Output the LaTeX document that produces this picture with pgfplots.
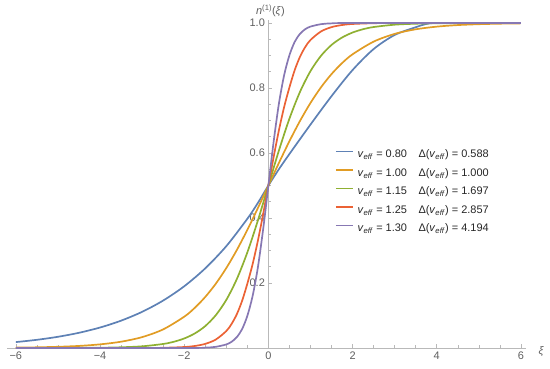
\documentclass[border=0pt]{standalone}
\usepackage{fontspec}
\setmainfont{Liberation Sans}
\usepackage{pgfplots}
\pgfplotsset{compat=1.18}
\definecolor{mBlue}{RGB}{94,129,181}
\definecolor{mOrange}{RGB}{225,156,36}
\definecolor{mGreen}{RGB}{143,176,50}
\definecolor{mRed}{RGB}{235,98,53}
\definecolor{mPurple}{RGB}{135,120,179}
\definecolor{axgray}{RGB}{185,185,185}
\definecolor{txtgray}{RGB}{95,95,95}
\newcommand{\veff}{\textit{v}\textsubscript{\textit{eff}}}
\newcommand{\lent}[2]{\makebox[61bp][l]{\veff\ = #1}Δ(\veff) = #2}
\begin{document}
\begin{tikzpicture}
\path[use as bounding box] (0,0) rectangle (550bp,369bp);
\begin{axis}[
  at={(7bp,21bp)}, anchor=south west,
  scale only axis, width=519bp, height=328.25bp,
  xmin=-6.21, xmax=6.12, ymin=0, ymax=1.01,
  axis lines=middle,
  axis line style={axgray, line width=0.8bp, -},
  xtick={-6,-4,-2,0,2,4,6},
  xticklabels={−6,−4,−2,0,2,4,6},
  ytick={0.2,0.4,0.6,0.8,1.0},
  yticklabels={0.2,0.4,0.6,0.8,1.0},
  minor x tick num=3, minor y tick num=3,
  hide obscured x ticks=false,
  tick style={axgray, line width=0.6bp},
  major tick length=4bp, minor tick length=2.5bp,
  tick align=inside,
  ticklabel style={font=\fontsize{11}{13}\selectfont, text=txtgray},
  clip=false,
  xlabel={\textit{ξ}},
  ylabel={\textit{n}\textsuperscript{(1)}(\textit{ξ})},
  every axis x label/.style={at={(axis cs:6.12,0)}, anchor=west, xshift=9bp, yshift=-4bp, font=\fontsize{11}{13}\selectfont, text=txtgray},
  every axis y label/.style={at={(axis cs:0,1.0)}, anchor=south, yshift=3bp, xshift=2bp, font=\fontsize{11}{13}\selectfont, text=txtgray},
  legend image code/.code={\draw[#1, line width=1.3bp] (0bp,3.8bp) -- (17bp,3.8bp);},
  legend cell align=left,
  legend style={draw=none, fill=none, at={(axis description cs:0.632,0.604)}, anchor=north west,
    inner sep=0pt, row sep=7.8bp, font=\fontsize{11}{13}\selectfont,
    nodes={inner sep=0pt, text height=8bp, text depth=2.7bp, text=black!85},
    /tikz/every odd column/.append style={column sep=4bp}},
  every axis plot/.append style={line width=1.7bp},
]
\addplot[mBlue, smooth] coordinates {
(-6,0.0182) (-5.5,0.0252) (-5,0.0345) (-4.5,0.0468) (-4,0.0630) (-3.5,0.0841)
(-3,0.1113) (-2.5,0.1460) (-2,0.1899) (-1.5,0.2451) (-1,0.3134) (-0.5,0.3976)
(-0.25,0.4463) (0,0.5) (0.25,0.5502) (0.5,0.5970) (1,0.6875) (1.5,0.7750)
(2,0.8553) (2.5,0.9198) (3,0.9632) (3.5,0.9870) (3.75,0.9970) (4,1.0) (5,1.0) (6,1.0)};
\addlegendentry{\lent{0.80}{0.588}}
\addplot[mOrange, smooth] coordinates {
(-6,0.0012) (-5.5,0.0021) (-5,0.0037) (-4.5,0.0064) (-4,0.0112) (-3.5,0.0194)
(-3,0.0335) (-2.5,0.0573) (-2,0.0963) (-1.75,0.1235) (-1.5,0.1571) (-1.25,0.1978)
(-1,0.2460) (-0.75,0.3015) (-0.5,0.3636) (-0.25,0.4305) (0,0.5) (0.25,0.5695)
(0.5,0.6364) (0.75,0.6985) (1,0.7540) (1.25,0.8022) (1.5,0.8429) (1.75,0.8765)
(2,0.9037) (2.5,0.9427) (3,0.9665) (3.5,0.9806) (4,0.9888) (4.5,0.9936)
(5,0.9963) (5.5,0.9979) (6,0.9988)};
\addlegendentry{\lent{1.00}{1.000}}
\addplot[mGreen, smooth] coordinates {
(-6,0.0000) (-5,0.0002) (-4,0.0009) (-3.5,0.0022) (-3,0.0052) (-2.5,0.0124)
(-2.25,0.0191) (-2,0.0293) (-1.75,0.0447) (-1.5,0.0675) (-1.25,0.1009) (-1,0.1480)
(-0.75,0.2121) (-0.5,0.2942) (-0.25,0.3923) (0,0.5) (0.25,0.6077) (0.5,0.7058)
(0.75,0.7879) (1,0.8520) (1.25,0.8991) (1.5,0.9325) (1.75,0.9553) (2,0.9707)
(2.25,0.9809) (2.5,0.9876) (3,0.9948) (3.5,0.9978) (4,0.9991) (5,0.9998) (6,1.0)};
\addlegendentry{\lent{1.15}{1.697}}
\addplot[mRed, smooth] coordinates {
(-6,0) (-3,0.0002) (-2.5,0.0007) (-2,0.0030) (-1.75,0.0062) (-1.5,0.0127)
(-1.25,0.0260) (-1,0.0522) (-0.875,0.0740) (-0.75,0.1040) (-0.625,0.1450)
(-0.5,0.1980) (-0.375,0.2580) (-0.25,0.3300) (-0.125,0.4120) (0,0.5)
(0.125,0.5880) (0.25,0.6700) (0.375,0.7420) (0.5,0.8020) (0.625,0.8550)
(0.75,0.8960) (0.875,0.9260) (1,0.9478) (1.25,0.9740) (1.5,0.9873) (1.75,0.9938)
(2,0.9970) (2.5,0.9993) (3,0.9998) (6,1.0)};
\addlegendentry{\lent{1.25}{2.857}}
\addplot[mPurple, smooth] coordinates {
(-6,0) (-2,0.0001) (-1.5,0.0012) (-1.25,0.0036) (-1,0.0110) (-0.875,0.0191)
(-0.75,0.0335) (-0.625,0.0580) (-0.5,0.0990) (-0.375,0.1600) (-0.25,0.2480)
(-0.125,0.3650) (0,0.5) (0.125,0.6350) (0.25,0.7520) (0.375,0.8400) (0.5,0.9010)
(0.625,0.9420) (0.75,0.9665) (0.875,0.9809) (1,0.9890) (1.25,0.9964) (1.5,0.9988)
(2,0.9999) (6,1.0)};
\addlegendentry{\lent{1.30}{4.194}}
\end{axis}
\end{tikzpicture}
\end{document}
